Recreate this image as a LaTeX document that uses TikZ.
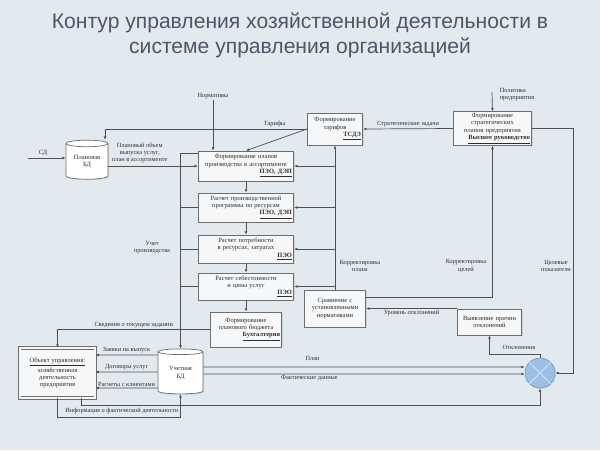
\documentclass[tikz,border=0pt]{standalone}
\usepackage{fontspec}
\setmainfont{Liberation Serif}
\newfontfamily\headfont{Liberation Sans}
\usepackage{tikz}
\usetikzlibrary{
    arrows.meta, positioning, calc, shapes.geometric, shadows
}
\definecolor{bgcolor}{HTML}{E2E9EF}
\definecolor{boxline}{HTML}{6E6E6E}
\definecolor{boxfill}{HTML}{F5F7F9}
\definecolor{linecol}{HTML}{505050}
\definecolor{headcolor}{HTML}{4A5868}
\definecolor{inkcolor}{HTML}{2E2E2E}
\definecolor{cmpfill}{HTML}{9CC0E4}
\definecolor{cmpline}{HTML}{6F92B6}
\definecolor{cmpcross}{HTML}{D2E3F3}

\newcommand{\boxrole}[1]{\par\noindent\makebox[\linewidth][r]{\underline{\textbf{#1}}}}

\begin{document}
\begin{tikzpicture}[
    x=0.025cm, y=-0.025cm,
    proc/.style={
        rectangle, draw=boxline, fill=boxfill, line width=0.5pt,
        font=\fontsize{4.6}{5.2}\selectfont, text=inkcolor, align=center,
        inner sep=1.2pt,
        drop shadow={opacity=0.2, shadow xshift=0.7pt, shadow yshift=-0.7pt},
    },
    store/.style={
        cylinder, shape border rotate=90, aspect=0.25,
        draw=boxline, fill=white, line width=0.5pt,
        font=\fontsize{4.6}{5.2}\selectfont, text=inkcolor, align=center,
        inner sep=0pt,
        drop shadow={opacity=0.2, shadow xshift=0.7pt, shadow yshift=-0.7pt},
    },
    lbl/.style={font=\fontsize{4.5}{5.1}\selectfont, text=inkcolor, inner sep=1pt, align=center},
    link/.style={draw=linecol, line width=0.5pt},
    arr/.style={link, -{Latex[length=2.4pt, width=2pt]}},
]

\useasboundingbox (0,0) rectangle (600,450);
\fill[bgcolor] (0,0) rectangle (600,450);

% ── Title ──────────────────────────────────────────────────────────────────
\node[font=\headfont\fontsize{15}{17.8}\selectfont, text=headcolor, align=center] (title) at (300,35.5)
    {Контур управления хозяйственной деятельности в\\системе управления организацией};

% ── Planning chain ─────────────────────────────────────────────────────────
\node[proc, text width=2.3cm, minimum height=0.75cm]   (plan1)  at (246,166)   {Формирование планов производства в ассортименте\boxrole{ПЭО, ДЭП}};
\node[proc, text width=2.3cm, minimum height=0.725cm]  (plan2)  at (246,207.5) {Расчет производственной программы по ресурсам\boxrole{ПЭО, ДЭП}};
\node[proc, text width=2.3cm, minimum height=0.7cm]    (plan3)  at (246,249)   {Расчет потребности в ресурсах, затратах\boxrole{ПЭО}};
\node[proc, text width=2.3cm, minimum height=0.675cm]  (plan4)  at (246,286.5) {Расчет себестоимости и цены услуг\boxrole{ПЭО}};
\node[proc, text width=1.7cm, minimum height=0.875cm]  (budget) at (246,329.5) {Формирование планового бюджета\boxrole{Бухгалтерия}};

% ── Upper control boxes ────────────────────────────────────────────────────
\node[proc, text width=1.3cm, minimum height=0.8cm]    (tariff) at (335,129)   {Формирование тарифов\boxrole{ТСДЭ}};
\node[proc, text width=1.875cm, minimum height=0.825cm] (strat) at (492.5,128.5) {Формирование стратегических планов предприятия\boxrole{Высшее руководство}};

% ── Feedback boxes ─────────────────────────────────────────────────────────
\node[proc, text width=1.45cm, minimum height=0.925cm] (compare) at (335,308.5) {Сравнение с установленными нормативами};
\node[proc, text width=1.525cm, minimum height=0.65cm] (cause)   at (489.5,322) {Выявление причин отклонений};
\node[circle, draw=cmpline, fill=cmpfill, minimum size=0.75cm, inner sep=0pt,
      drop shadow={opacity=0.2, shadow xshift=0.7pt, shadow yshift=-0.7pt}] (cmp) at (540,373) {};
\draw[cmpcross, line width=0.6pt] (cmp.north west) -- (cmp.south east) (cmp.north east) -- (cmp.south west);

% ── Object and data stores ─────────────────────────────────────────────────
\node[proc, double=boxfill, double distance=1.2pt, text width=1.8cm, minimum height=1.25cm] (object) at (57.5,373)
    {\underline{Объект управления:}\\хозяйственная\\деятельность\\предприятия};
\node[store, minimum width=1.05cm, minimum height=0.975cm]  (dbplan) at (87,161.5) {Плановая\\БД};
\node[store, minimum width=1.125cm, minimum height=1.125cm] (dbfact) at (180.5,373) {Учетная\\БД};

% ── Inputs ─────────────────────────────────────────────────────────────────
\coordinate (sdin) at (28,158);
\draw[arr] (sdin) -- (sdin -| dbplan.west) node[lbl, pos=0.4, above] {СД};
\node[lbl] (normlbl) at (213,96) {Нормативы};
\draw[arr] (normlbl) -- (normlbl |- plan1.north);
\coordinate (polin) at (492,92);
\draw[arr] (polin) -- (strat.north);
\node[lbl, align=left] at (517,95) {Политика\\предприятия};

% ── Planning flows ─────────────────────────────────────────────────────────
\draw[arr] (dbplan.east |- plan1.west) -- (plan1.west)
    node[lbl, pos=0.35, above, yshift=1pt] {Плановый объем\\выпуска услуг,\\план в ассортименте};
\draw[arr] (plan1) -- (plan2);
\draw[arr] (plan2) -- (plan3);
\draw[arr] (plan3) -- (plan4);
\draw[arr] (plan4) -- (budget);
\draw[arr] (tariff.west) -| ($(dbplan.north)+(18,0)$) node[lbl, pos=0.08, above] {Тарифы};
\draw[arr] (tariff.west) -- (plan1.north);
\draw[arr] (strat.west) -- (tariff.east) node[lbl, midway, above] {Стратегические задачи};

% left bus into the accounting store
\draw[arr] ($(plan1.north west)+(0,3)$) -| (dbfact.north);
\foreach \b in {plan2, plan3, plan4}
    \draw[link] (\b.west) -- (\b.west -| dbfact.north);
\node[lbl] at (152,248) {Учет\\производства};
\draw[arr] (budget.west) -| (object.north) node[lbl, pos=0.25, above] {Сведения о текущем задании};

% ── Correction loops ───────────────────────────────────────────────────────
\draw[arr] (compare.north) -- (tariff.south);
\foreach \b in {plan1, plan2, plan3, plan4}
    \draw[arr] (compare.north |- \b.east) -- (\b.east);
\node[lbl] at (360,266) {Корректировка\\плана};
\draw[arr] ($(compare.north east)+(0,8)$) -| (strat.south);
\node[lbl] at (466,266) {Корректировка\\целей};
\draw[arr] (strat.east) -- ++(41,0) |- (cmp.east);
\node[lbl] at (556,266) {Целевые\\показатели};
\draw[arr] (cause.west |- compare.east) -- (compare.east) node[lbl, midway, below] {Уровень отклонений};
\draw[arr] (cmp.north) -- ++(0,-3) -| (cause.south);
\node[lbl] at (519,347) {Отклонения};

% ── Accounting flows ───────────────────────────────────────────────────────
\draw[arr] ($(dbfact.east)+(0,-6)$) -- ($(cmp.west)+(0,-6)$) node[lbl, pos=0.34, above, yshift=3pt] {План};
\draw[arr] ($(dbfact.east)+(0,1)$) -- ($(cmp.west)+(0,1)$) node[lbl, pos=0.33, below] {Фактические данные};
\foreach \dy/\txt in {-18/Заявки на выпуск, -1/Договоры услуг, 15/Расчеты с клиентами}
    \draw[arr] ($(dbfact.west)+(0,\dy)$) -- ($(object.east)+(0,\dy)$) node[lbl, midway, above] {\txt};
\draw[arr] ($(object.south east)+(-14,0)$) -- ++(0,7) -| (cmp.south);
\draw[arr] (object.south) -- ++(0,19) -| (dbfact.south);
\node[lbl] at (122,411) {Информация о фактической деятельности};

\end{tikzpicture}
\end{document}
